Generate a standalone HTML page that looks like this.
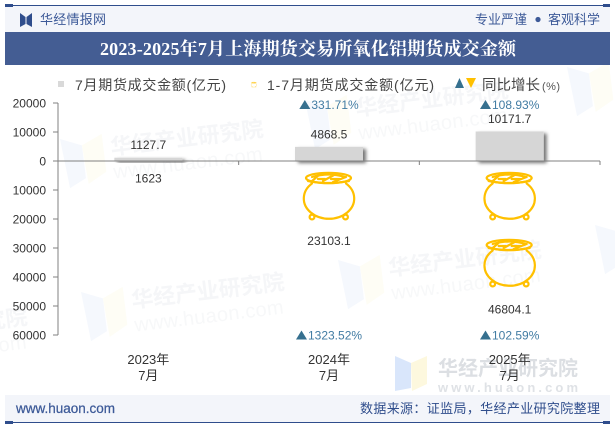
<!DOCTYPE html>
<html lang="zh-CN">
<head>
<meta charset="utf-8">
<title>2023-2025年7月上海期货交易所氧化铝期货成交金额</title>
<style>
html,body{margin:0;padding:0;background:#fff;width:615px;height:427px;overflow:hidden}
svg{display:block}
text{font-family:"Liberation Sans","Noto Sans CJK SC",sans-serif}
.wm-t{font-family:"Liberation Sans","Noto Sans CJK SC",sans-serif;font-weight:700;font-size:22px;fill:#f5f6f8}
.wm-u{font-size:20px;fill:#f7f8f9}
</style>
</head>
<body>
<svg id="chart" xmlns="http://www.w3.org/2000/svg" width="615" height="427" viewBox="0 0 615 427">
  <defs>
    <filter id="bar-shadow" x="-20%" y="-40%" width="150%" height="200%">
      <feDropShadow dx="3" dy="2" stdDeviation="1.8" flood-color="#000" flood-opacity="0.55"/>
    </filter>
    <symbol id="pot" viewBox="0 0 52 48" width="52" height="48" overflow="visible">
      <g fill="none" stroke="#ffc000" stroke-width="2.2" stroke-linecap="round" stroke-linejoin="round">
        <ellipse cx="25.5" cy="6" rx="22.5" ry="5.2"/>
        <path d="M5 9Q25 13 46 9M9 5Q26 0 42 5M8 10L17 2M20 9L31 3M30 10L43 5M15 7H22M28 7H37"/>
        <path d="M9 11.5A25.2 20.3 0 1 0 43 11.5"/>
        <circle cx="9" cy="45" r="2.4"/>
        <circle cx="42.5" cy="45" r="2.4"/>
      </g>
    </symbol>
  </defs>

  <rect x="0" y="0" width="615" height="427" fill="#fff"/>

  <!-- faint watermarks -->
  <g transform="translate(60,139) rotate(-7)">
    <polygon points="0,0 21,9 21,42 4,50" fill="#f5f8fd"/><polygon points="21,9 42,0 42,38 23,48" fill="#fefdf5"/>
    <text class="wm-t" x="49" y="22" textLength="154">华经产业研究院</text>
    <text class="wm-u" x="49" y="46" textLength="150">www.huaon.com</text>
  </g>
  <g transform="translate(305,100) rotate(-7)">
    <polygon points="0,0 21,9 21,42 4,50" fill="#f5f8fd"/><polygon points="21,9 42,0 42,38 23,48" fill="#fefdf5"/>
    <text class="wm-t" x="49" y="22" textLength="154">华经产业研究院</text>
    <text class="wm-u" x="49" y="46" textLength="150">www.huaon.com</text>
  </g>
  <g transform="translate(567,67) rotate(-7)">
    <polygon points="0,0 21,9 21,42 4,50" fill="#f5f8fd"/><polygon points="21,9 42,0 42,38 23,48" fill="#fefdf5"/>
  </g>
  <g transform="translate(81,292) rotate(-7)">
    <polygon points="0,0 21,9 21,42 4,50" fill="#f5f8fd"/><polygon points="21,9 42,0 42,38 23,48" fill="#fefdf5"/>
    <text class="wm-t" x="49" y="22" textLength="154">华经产业研究院</text>
    <text class="wm-u" x="49" y="46" textLength="150">www.huaon.com</text>
  </g>
  <g transform="translate(338,260) rotate(-7)">
    <polygon points="0,0 21,9 21,42 4,50" fill="#f5f8fd"/><polygon points="21,9 42,0 42,38 23,48" fill="#fefdf5"/>
    <text class="wm-t" x="49" y="22" textLength="154">华经产业研究院</text>
    <text class="wm-u" x="49" y="46" textLength="150">www.huaon.com</text>
  </g>
  <g transform="translate(595,225) rotate(-7)">
    <polygon points="0,0 21,9 21,42 4,50" fill="#f5f8fd"/>
  </g>
  <g transform="translate(-176,327) rotate(-7)">
    <text class="wm-t" x="49" y="22" textLength="154">华经产业研究院</text>
    <text class="wm-u" x="49" y="46" textLength="150">www.huaon.com</text>
  </g>
  <g>
    <polygon points="395,356 411,363 411,388 395,391" fill="#d9e6fb"/>
    <polygon points="411,363 427,356 427,384 412,391" fill="#fdf8de"/>
    <text x="438" y="375" font-size="20" font-weight="700" fill="#dcdfe3" textLength="140">华经产业研究院</text>
    <text x="438" y="392" font-size="13" font-weight="700" fill="#dfe2e6" textLength="140">www.huaon.com</text>
  </g>

  <!-- header -->
  <rect x="5" y="5" width="605" height="27" fill="#f3f5fa"/>
  <rect x="5" y="5" width="605" height="1" fill="#2f4d8c"/>
  <rect x="5" y="4" width="8" height="3" fill="#2f4d8c"/>
  <rect x="603" y="4" width="7" height="3" fill="#2f4d8c"/>
  <g fill="#2f4d8c">
    <polygon points="20,13 25.5,17 25.5,24 20,27"/>
    <polygon points="32,13 26.5,17 26.5,24 32,27"/>
  </g>
  <text x="40" y="24" font-size="13" fill="#3d5a98" textLength="66">华经情报网</text>
  <text x="475" y="24" font-size="13" fill="#3d5a98" textLength="52">专业严谨</text>
  <circle cx="538" cy="19.5" r="2.6" fill="#3d5a98"/>
  <text x="548" y="24" font-size="13" fill="#3d5a98" textLength="52">客观科学</text>

  <!-- title -->
  <rect x="5" y="32" width="605" height="33" fill="#445d93"/>
  <text x="100" y="55" font-size="18" font-weight="700" fill="#fff" textLength="416" style="font-family:'Liberation Serif','Noto Serif CJK SC',serif">2023-2025年7月上海期货交易所氧化铝期货成交金额</text>

  <!-- legend -->
  <g>
    <g>
      <rect x="58" y="81" width="6" height="6" fill="#d9d9d9"/>
      <text x="75" y="90" font-size="14" fill="#444" textLength="151">7月期货成交金额(亿元)</text>
    </g>
    <g>
      <use href="#pot" transform="translate(251,82) scale(0.11)"/>
      <text x="267" y="90" font-size="14" fill="#444" textLength="167">1-7月期货成交金额(亿元)</text>
    </g>
    <g>
      <polygon points="455,88 459.5,78 464,88" fill="#36708f"/>
      <polygon points="466,78 476,78 471,88" fill="#ffc000"/>
      <text x="482" y="90" font-size="14.5" fill="#444" textLength="58">同比增长</text>
      <text x="542" y="90" font-size="11" fill="#555" textLength="18">(%)</text>
    </g>
  </g>

  <g id="plot"></g>

  <!-- footer -->
  <rect x="5" y="395" width="605" height="27" fill="#f3f5fa"/>
  <rect x="5" y="422" width="605" height="1" fill="#2f4d8c"/>
  <rect x="5" y="421" width="8" height="3" fill="#2f4d8c"/>
  <rect x="603" y="421" width="7" height="3" fill="#2f4d8c"/>
  <text x="16" y="413" font-size="13.5" stroke="#3d5a98" stroke-width="0.25" fill="#3d5a98" textLength="99">www.huaon.com</text>
  <text x="360" y="413" font-size="13" fill="#2f4d8c" textLength="240">数据来源：证监局，华经产业研究院整理</text>
</svg>

<script>
const categories = ['2023年|7月', '2024年|7月', '2025年|7月'];
const monthlyValues = [1127.7, 4868.5, 10171.7];
const cumulativeValues = [1623, 23103.1, 46804.1];
const monthlyLabels = ['1127.7', '4868.5', '10171.7'];
const cumulativeLabels = ['1623', '23103.1', '46804.1'];
const monthlyGrowth = [null, 331.71, 108.93];
const cumulativeGrowth = [null, 1323.52, 102.59];
const yTickValues = [20000, 10000, 0, 10000, 20000, 30000, 40000, 50000, 60000];
const yTickSigns = [1, 1, 0, -1, -1, -1, -1, -1, -1];

const SVGNS = 'http://www.w3.org/2000/svg';
const plot = document.getElementById('plot');
const svg = document.getElementById('chart');
const left = 58, right = 600, top_ = 103, bottom = 335;
const yMax = 20000, yMin = -60000;
const yScale = v => top_ + (yMax - v) / (yMax - yMin) * (bottom - top_);
const band = (right - left) / categories.length;
const xCenter = i => left + band * (i + 0.5);
const axisY = yScale(0);
const barWidth = 68, potWidth = 52, potHeight = 48, potTopGap = 11, potPeriod = 67;

function make(tag, attrs, parent) {
  const el = document.createElementNS(SVGNS, tag);
  for (const k in attrs) el.setAttribute(k, attrs[k]);
  (parent || plot).appendChild(el);
  return el;
}

// bars and pots
categories.forEach((c, i) => {
  const cx = xCenter(i);

  const clip = make('clipPath', { id: 'pot-clip-' + i }, svg);
  make('rect', { x: cx - potWidth / 2 - 3, y: axisY, width: potWidth + 6, height: yScale(-cumulativeValues[i]) - axisY }, clip);
  const potGroup = make('g', { 'clip-path': 'url(#pot-clip-' + i + ')' });
  
  
  const stackH = yScale(-cumulativeValues[i]) - axisY;
  for (let k = 0; k * potPeriod < stackH; k++) {
    const pot = make('use', { href: '#pot', x: cx - potWidth / 2, y: axisY + potTopGap + k * potPeriod, width: potWidth, height: potHeight }, potGroup);
    
    
  }

  const by = yScale(monthlyValues[i]);
  const bar = make('rect', { x: cx - barWidth / 2, y: by, width: barWidth, height: axisY - by, fill: '#d6d6d6', filter: 'url(#bar-shadow)' });
  
  
});

// axes
const yAxis = make('line', { x1: left, x2: left, y1: top_, y2: bottom, stroke: '#808080', 'stroke-width': 1 });


const xAxis = make('line', { x1: left, x2: right, y1: axisY, y2: axisY, stroke: '#808080', 'stroke-width': 1 });



yTickValues.forEach((v, i) => {
  const y = yScale(v * yTickSigns[i]);
  const tick = make('line', { x1: left - 5, x2: left, y1: y, y2: y, stroke: '#808080', 'stroke-width': 1 });
  
  
  const label = make('text', { x: 46, y: y + 4.5, 'text-anchor': 'end', 'font-size': 12, fill: '#333' });
  
  
  label.textContent = String(v);
});

for (let i = 0; i <= categories.length; i++) {
  const x = left + band * i;
  const tick = make('line', { x1: x, x2: x, y1: axisY, y2: axisY + 4, stroke: '#808080', 'stroke-width': 1 });
  
  
}

// value and category labels
categories.forEach((c, i) => {
  const cx = xCenter(i);

  const top = make('text', { x: cx, y: yScale(monthlyValues[i]) - 8.5, 'text-anchor': 'middle', 'font-size': 12, fill: '#333' });
  
  
  top.textContent = monthlyLabels[i];

  const low = make('text', { x: cx, y: yScale(-cumulativeValues[i]) + 17, 'text-anchor': 'middle', 'font-size': 12, fill: '#333' });
  
  
  low.textContent = cumulativeLabels[i];

  const parts = c.split('|');
  parts.forEach((p, j) => {
    const t = make('text', { x: cx, y: 364 + j * 16, 'text-anchor': 'middle', 'font-size': 13, fill: '#333' });
    
    
    t.textContent = p;
  });
});

// growth markers
function growthRow(values, rowY, name) {
  values.forEach((v, i) => {
    if (v === null) return;
    const txt = v.toFixed(2) + '%';
    const tw = (txt.length - 2) * 6.67 + 3.3 + 10.7;
    const total = 12 + tw;
    const x0 = xCenter(i) - total / 2;
    const tri = make('polygon', { points: x0 + ',' + (rowY + 4.5) + ' ' + (x0 + 5.5) + ',' + (rowY - 4.5) + ' ' + (x0 + 11) + ',' + (rowY + 4.5), fill: '#36708f' });
    
    
    const t = make('text', { x: x0 + 12, y: rowY + 4.5, 'font-size': 12, fill: '#427ca3' });
    
    
    t.textContent = txt;
  });
}
growthRow(monthlyGrowth, yScale(yMax) + 1.5, 'growth-monthly');
growthRow(cumulativeGrowth, yScale(yMin), 'growth-cumulative');
</script>
</body>
</html>
